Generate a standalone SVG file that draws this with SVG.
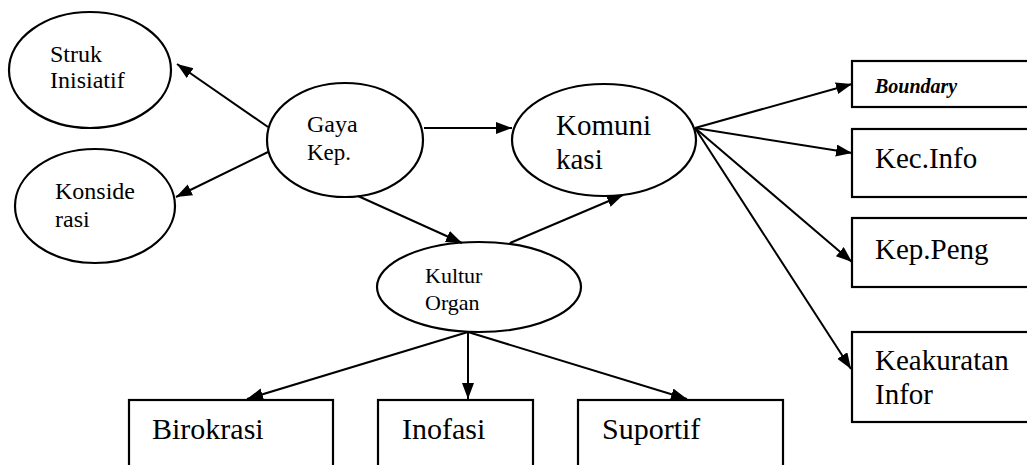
<svg xmlns="http://www.w3.org/2000/svg" width="1027" height="465" viewBox="0 0 1027 465">
<style>
.n{fill:#fff;stroke:#000;stroke-width:2.2}
text{font-family:'Liberation Serif','DejaVu Serif',serif;fill:#000}
.c line{stroke:#000;stroke-width:2;marker-end:url(#ah)}
</style>
<defs>
<marker id="ah" markerUnits="userSpaceOnUse" markerWidth="18" markerHeight="14" refX="16" refY="6" orient="auto">
<path d="M0,0 L16,6 L0,12 Z" fill="#000"/>
</marker>
</defs>
<rect width="1027" height="465" fill="#fff"/>
<g id="struk"><ellipse class="n" cx="90" cy="70" rx="81" ry="58"/><text x="50" y="62" font-size="24">Struk</text><text x="50" y="88" font-size="24">Inisiatif</text></g>
<g id="konside"><ellipse class="n" cx="95" cy="206" rx="80" ry="57"/><text x="55" y="199" font-size="24">Konside</text><text x="55" y="227" font-size="24">rasi</text></g>
<g id="gaya"><ellipse class="n" cx="345" cy="140" rx="78" ry="57"/><text x="307" y="132" font-size="24">Gaya</text><text x="307" y="160" font-size="23">Kep.</text></g>
<g id="komunikasi"><ellipse class="n" cx="604" cy="140" rx="92" ry="56"/><text x="556" y="135" font-size="29">Komuni</text><text x="556" y="169" font-size="29">kasi</text></g>
<g id="kultur"><ellipse class="n" cx="479" cy="287" rx="102" ry="45"/><text x="425" y="283" font-size="22">Kultur</text><text x="425" y="310" font-size="22">Organ</text></g>
<g id="boundary"><rect class="n" x="852" y="61" width="180" height="46"/><text x="875" y="93" font-size="20" font-style="italic" font-weight="bold">Boundary</text></g>
<g id="kecinfo"><rect class="n" x="852" y="129" width="180" height="68"/><text x="875" y="168" font-size="29">Kec.Info</text></g>
<g id="keppeng"><rect class="n" x="852" y="218" width="180" height="69"/><text x="875" y="259" font-size="29">Kep.Peng</text></g>
<g id="keakuratan"><rect class="n" x="852" y="332" width="180" height="90"/><text x="875" y="370" font-size="29">Keakuratan</text><text x="875" y="404" font-size="29">Infor</text></g>
<g id="birokrasi"><rect class="n" x="129" y="400" width="204" height="75"/><text x="152" y="439" font-size="30">Birokrasi</text></g>
<g id="inofasi"><rect class="n" x="378" y="400" width="155" height="75"/><text x="402" y="439" font-size="30">Inofasi</text></g>
<g id="suportif"><rect class="n" x="578" y="400" width="205" height="75"/><text x="602" y="439" font-size="30">Suportif</text></g>
<g id="connectors" class="c">
<line x1="268" y1="127" x2="177" y2="64"/>
<line x1="268" y1="152" x2="176" y2="197"/>
<line x1="424" y1="128" x2="512" y2="128"/>
<line x1="358" y1="196" x2="462" y2="243"/>
<line x1="510" y1="243" x2="623" y2="195"/>
<line x1="695" y1="128" x2="852" y2="84"/>
<line x1="695" y1="128" x2="852" y2="153"/>
<line x1="695" y1="128" x2="852" y2="262"/>
<line x1="695" y1="128" x2="851" y2="369"/>
<line x1="468" y1="332" x2="247" y2="399"/>
<line x1="468" y1="332" x2="468" y2="399"/>
<line x1="468" y1="332" x2="687" y2="399"/>
</g>
</svg>
